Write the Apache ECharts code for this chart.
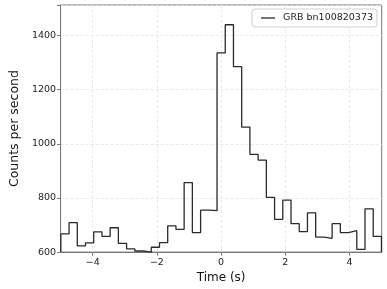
<!DOCTYPE html>
<html>
<head>
<meta charset="utf-8">
<script src="https://cdn.jsdelivr.net/npm/echarts@6/dist/echarts.min.js"></script>
<style>
html,body{margin:0;padding:0;background:#fff;}
#chart{width:387px;height:289px;}
</style>
</head>
<body>
<div id="chart"></div>
<script>
// Bin edges (s), 0.256 s bins
const binEdges = [-4.992, -4.736, -4.480, -4.224, -3.968, -3.712, -3.456, -3.200, -2.944, -2.688,
  -2.432, -2.176, -1.920, -1.664, -1.408, -1.152, -0.896, -0.640, -0.384, -0.128,
  0.128, 0.384, 0.640, 0.896, 1.152, 1.408, 1.664, 1.920, 2.176, 2.432,
  2.688, 2.944, 3.200, 3.456, 3.712, 3.968, 4.224, 4.480, 4.736, 4.992];
// Counts per second in each bin
const counts = [667, 709, 623, 634, 675, 658, 690, 632, 612, 604,
  600, 618, 635, 697, 684, 857, 672, 755, 753, 1336,
  1440, 1285, 1062, 961, 940, 802, 721, 792, 705, 676,
  745, 655, 651, 705, 672, 679, 610, 760, 658];
const seriesName = 'GRB bn100820373';
const xTickLabels = ['-5', '-4', '-3', '-2', '-1', '0', '1', '2', '3', '4', '5'];
const yTickValues = [600, 800, 1000, 1200, 1400];
const xMin = -5, xMax = 5, yMin = 600, yMax = 1513;

const stepData = [[binEdges[0], yMin]];
for (let i = 0; i < counts.length; i++) stepData.push([binEdges[i], counts[i]]);
stepData.push([binEdges[binEdges.length - 1], yMin]);

const font = 'DejaVu Sans';
const lineColor = '#2a2a2a';
const showEven = (idx) => idx % 2 === 1;

const chart = echarts.init(document.getElementById('chart'), null, {renderer: 'canvas'});
chart.setOption({
  animation: false,
  backgroundColor: '#fff',
  textStyle: {fontFamily: font},
  grid: {left: 48.3, right: 5.3, top: 5, bottom: 34, show: true, borderColor: '#777', borderWidth: 1, backgroundColor: 'transparent'},
  legend: {
    right: 10, top: 9,
    padding: [4, 4, 4, 9],
    borderColor: '#d0d0d0', borderWidth: 1, borderRadius: 3,
    backgroundColor: 'rgba(255,255,255,0.8)',
    icon: 'rect',
    itemWidth: 14, itemHeight: 1.3, itemGap: 8,
    itemStyle: {color: lineColor},
    textStyle: {fontFamily: font, fontSize: 9.5, color: '#222', padding: [0, 0, 0, 3]},
    data: [{name: seriesName}]
  },
  xAxis: [
    {type: 'value', min: xMin, max: xMax, show: false},
    {
      type: 'category', data: xTickLabels, boundaryGap: false, position: 'bottom',
      name: 'Time (s)', nameLocation: 'middle', nameGap: 18,
      nameTextStyle: {fontFamily: font, fontSize: 12, color: '#111'},
      axisLine: {show: true, onZero: false, lineStyle: {color: '#777', width: 1}},
      axisTick: {show: true, length: 3.5, interval: showEven, lineStyle: {color: '#777'}},
      axisLabel: {interval: showEven, margin: 5, fontFamily: font, fontSize: 9.5, color: '#222',
        formatter: (v) => v.replace('-', '\u2212')},
      splitLine: {show: true, interval: showEven, lineStyle: {color: '#e4e4e4', type: [3, 2], width: 0.8}}
    }
  ],
  yAxis: {
    type: 'value', min: yMin, max: yMax, interval: 200,
    name: 'Counts per second', nameLocation: 'middle', nameGap: 33,
    nameTextStyle: {fontFamily: font, fontSize: 12.5, color: '#111'},
    axisLine: {show: true, onZero: false, lineStyle: {color: '#777', width: 1}},
    axisTick: {show: true, length: 3.5, lineStyle: {color: '#777'}},
    axisLabel: {margin: 4.5, fontFamily: font, fontSize: 9.5, color: '#222',
      formatter: (v) => yTickValues.includes(v) ? String(v) : ''},
    splitLine: {show: true, lineStyle: {color: '#e4e4e4', type: [3, 2], width: 0.8}}
  },
  series: [{
    name: seriesName, type: 'line', xAxisIndex: 0, step: 'end',
    data: stepData, symbol: 'none', clip: true,
    itemStyle: {color: lineColor},
    lineStyle: {color: lineColor, width: 1.3}
  }]
});
</script>
</body>
</html>
